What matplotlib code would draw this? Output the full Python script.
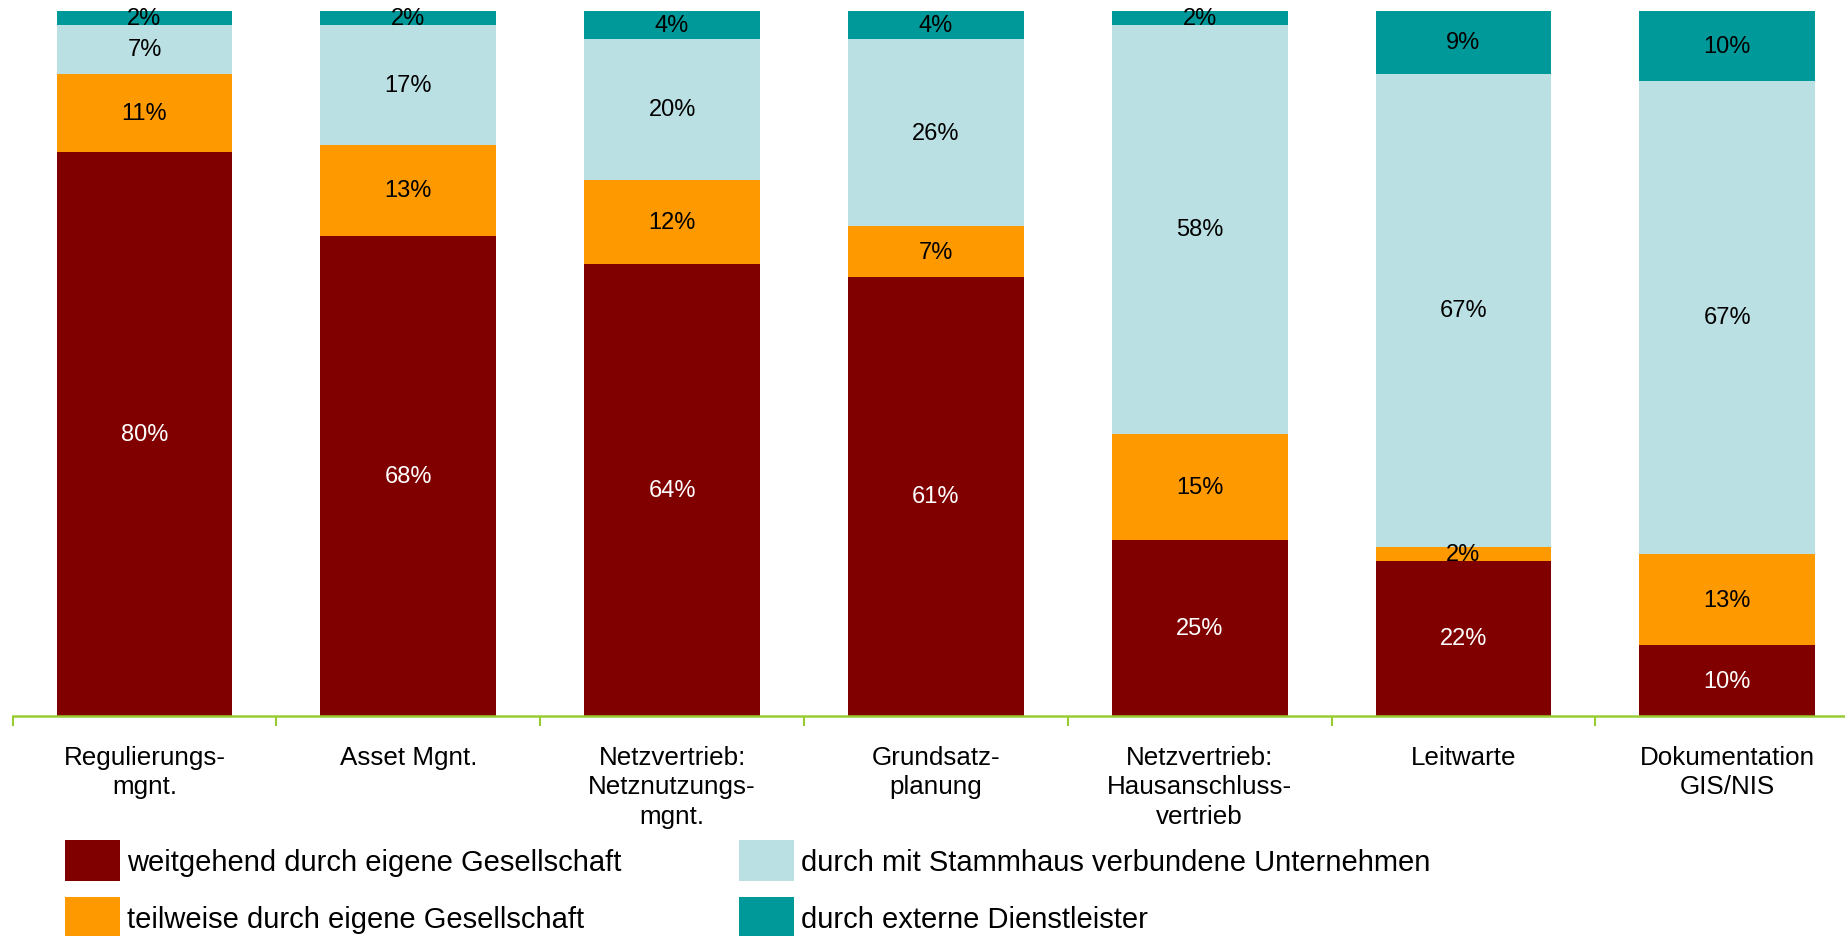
import numpy as np
import matplotlib.pyplot as plt
from matplotlib.patches import Patch

plt.rcParams["font.family"] = ["Liberation Sans", "DejaVu Sans"]

categories = [
    "Regulierungs-\nmgnt.",
    "Asset Mgnt.",
    "Netzvertrieb:\nNetznutzungs-\nmgnt.",
    "Grundsatz-\nplanung",
    "Netzvertrieb:\nHausanschluss-\nvertrieb",
    "Leitwarte",
    "Dokumentation\nGIS/NIS",
]
weitgehend = [80, 68, 64, 61, 25, 22, 10]
teilweise = [11, 13, 12, 7, 15, 2, 13]
stammhaus = [7, 17, 20, 26, 58, 67, 67]
extern = [2, 2, 4, 4, 2, 9, 10]

series_names = [
    "weitgehend durch eigene Gesellschaft",
    "teilweise durch eigene Gesellschaft",
    "durch mit Stammhaus verbundene Unternehmen",
    "durch externe Dienstleister",
]
colors = ["#800000", "#FF9900", "#BBE0E3", "#009999"]
text_colors = ["white", "black", "black", "black"]

series = np.array([weitgehend, teilweise, stammhaus, extern], dtype=float)
# bars are drawn as shares of 100 %, labels keep the rounded values
shares = series / series.sum(axis=0) * 100

fig = plt.figure(figsize=(18.45, 9.37), dpi=100)
ax = fig.add_axes([12.6 / 1845, 1 - 717 / 937, 1846.6 / 1845, (717 - 11.5) / 937])

x = np.arange(len(categories))
bottom = np.zeros(len(categories))
for vals, share, color, tcolor in zip(series, shares, colors, text_colors):
    ax.bar(x, share, bottom=bottom, width=0.667, color=color, linewidth=0)
    for xi, b, s, v in zip(x, bottom, share, vals):
        ax.text(xi, b + s / 2, f"{v:.0f}%", ha="center", va="center",
                fontsize=17, color=tcolor)
    bottom += share

ax.set_xlim(-0.5, len(categories) - 0.5)
ax.set_ylim(0, 100)
ax.set_yticks([])
for side in ["left", "right", "top"]:
    ax.spines[side].set_visible(False)
ax.spines["bottom"].set_color("#99CC33")
ax.spines["bottom"].set_linewidth(1.8)

ax.set_xticks(x)
ax.set_xticklabels(categories, fontsize=18.7, linespacing=1.28, va="top")
ax.tick_params(axis="x", which="major", length=0, pad=21)
ax.set_xticks(np.arange(len(categories) + 1) - 0.5, minor=True)
ax.tick_params(axis="x", which="minor", length=7, width=1.5, color="#99CC33")

handles = [Patch(facecolor=c, edgecolor="none") for c in colors]
fig.legend(handles, series_names, loc="upper left", ncol=2,
           bbox_to_anchor=(53 / 1845, 1 - 829.5 / 937), frameon=False,
           fontsize=21, handlelength=1.886, handleheight=1.785,
           handletextpad=0.24, columnspacing=4.05, labelspacing=0.53,
           borderaxespad=0)

fig.savefig("out.png", dpi=100)
